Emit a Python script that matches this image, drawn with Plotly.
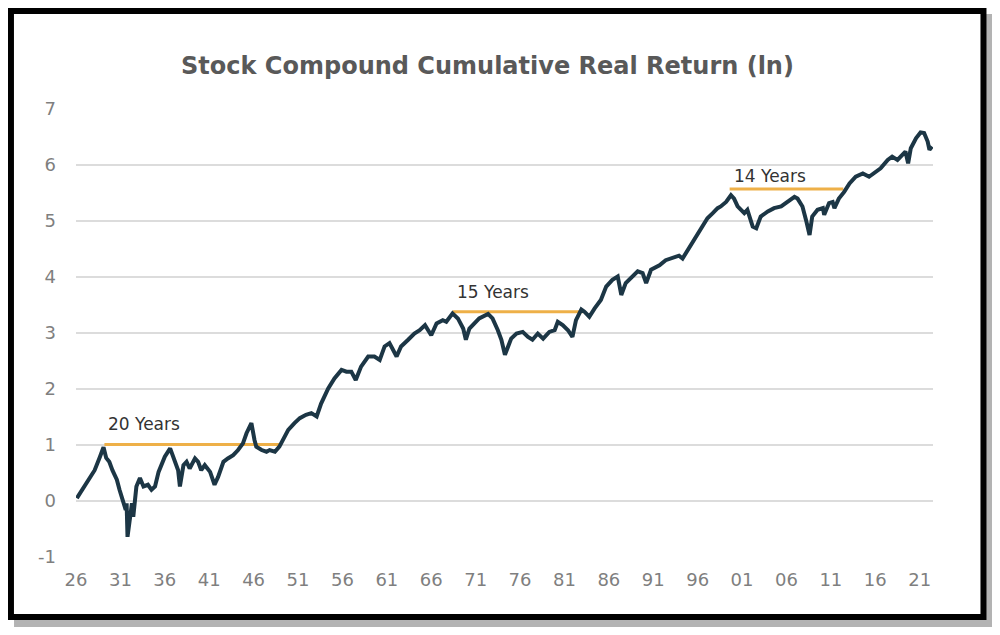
import plotly.graph_objects as go

# stock compound cumulative real return, natural log
YEARS = [
    1926.1, 1928.1, 1928.7, 1929.1, 1929.4, 1929.75, 1930.1, 1930.6, 1930.9, 1931.3,
    1931.6, 1931.7, 1931.8, 1932.3, 1932.45, 1932.8, 1933.2, 1933.6, 1934.1, 1934.5,
    1934.9, 1935.3, 1936.0, 1936.6, 1937.1, 1937.5, 1937.7, 1938.1, 1938.45, 1938.8,
    1939.4, 1939.75, 1940.1, 1940.5, 1941.1, 1941.6, 1942.0, 1942.6, 1943.1, 1943.7,
    1944.25, 1944.8, 1945.2, 1945.75, 1946.1, 1946.3, 1946.9, 1947.45, 1947.8, 1948.4,
    1948.9, 1949.3, 1949.9, 1950.6, 1951.2, 1951.9, 1952.5, 1953.1, 1953.6, 1954.4,
    1955.1, 1955.9, 1956.45, 1957.0, 1957.5, 1958.1, 1958.9, 1959.6, 1960.2, 1960.75,
    1961.3, 1962.1, 1962.6, 1963.4, 1964.1, 1964.7, 1965.3, 1966.0, 1966.6, 1967.3,
    1967.7, 1968.4, 1969.0, 1969.6, 1969.9, 1970.3, 1970.9, 1971.4, 1972.4, 1972.9,
    1973.5, 1973.9, 1974.3, 1974.5, 1975.0, 1975.6, 1976.3, 1976.9, 1977.4, 1978.0,
    1978.6, 1979.3, 1979.9, 1980.25, 1980.8, 1981.4, 1981.9, 1982.3, 1982.9, 1983.25,
    1983.8, 1984.4, 1985.1, 1985.7, 1986.4, 1987.0, 1987.4, 1987.9, 1988.7, 1989.25,
    1989.8, 1990.2, 1990.75, 1991.7, 1992.4, 1993.2, 1993.9, 1994.3, 1995.1, 1995.8,
    1996.6, 1997.1, 1997.7, 1998.25, 1998.6, 1999.2, 1999.75, 2000.1, 2000.5, 2000.9,
    2001.25, 2001.6, 2002.2, 2002.6, 2003.1, 2003.9, 2004.6, 2005.4, 2006.1, 2006.9,
    2007.25, 2007.8, 2008.2, 2008.6, 2008.9, 2009.5, 2010.1, 2010.25, 2010.8, 2011.2,
    2011.4, 2011.9, 2012.5, 2013.1, 2013.8, 2014.6, 2015.3, 2015.9, 2016.6, 2017.4,
    2017.9, 2018.5, 2019.1, 2019.4, 2019.7, 2020.0, 2020.6, 2021.1, 2021.5, 2021.9,
    2022.1, 2022.4,
]
LOG_RETURN = [
    0.05, 0.55, 0.79, 0.96, 0.77, 0.70, 0.55, 0.38, 0.20, -0.04,
    -0.16, -0.04, -0.64, -0.04, -0.28, 0.26, 0.41, 0.26, 0.29, 0.20,
    0.26, 0.52, 0.79, 0.94, 0.73, 0.55, 0.26, 0.64, 0.70, 0.58,
    0.76, 0.70, 0.55, 0.64, 0.52, 0.29, 0.43, 0.70, 0.76, 0.82,
    0.91, 1.03, 1.21, 1.39, 1.09, 0.97, 0.91, 0.88, 0.91, 0.88,
    0.97, 1.09, 1.27, 1.39, 1.48, 1.54, 1.57, 1.51, 1.74, 2.01,
    2.19, 2.34, 2.31, 2.31, 2.16, 2.40, 2.58, 2.58, 2.52, 2.76,
    2.82, 2.58, 2.76, 2.88, 2.99, 3.05, 3.14, 2.96, 3.17, 3.23,
    3.20, 3.35, 3.26, 3.08, 2.88, 3.08, 3.17, 3.26, 3.34, 3.26,
    3.05, 2.88, 2.61, 2.70, 2.90, 2.99, 3.02, 2.93, 2.88, 2.99,
    2.90, 3.02, 3.05, 3.20, 3.14, 3.05, 2.93, 3.23, 3.42, 3.38,
    3.29, 3.44, 3.59, 3.83, 3.95, 4.01, 3.68, 3.89, 4.01, 4.10,
    4.07, 3.89, 4.13, 4.21, 4.30, 4.35, 4.38, 4.33, 4.54, 4.69,
    4.90, 5.05, 5.14, 5.23, 5.26, 5.34, 5.46, 5.40, 5.26, 5.20,
    5.14, 5.20, 4.90, 4.87, 5.08, 5.17, 5.23, 5.26, 5.34, 5.43,
    5.40, 5.26, 5.02, 4.75, 5.08, 5.20, 5.23, 5.11, 5.32, 5.34,
    5.23, 5.40, 5.52, 5.67, 5.79, 5.85, 5.79, 5.85, 5.94, 6.09,
    6.15, 6.09, 6.18, 6.24, 6.03, 6.30, 6.48, 6.58, 6.57, 6.42,
    6.27, 6.33,
]

# periods spent below a previous peak
SEG_LABELS = ["20 Years", "15 Years", "14 Years"]
SEG_START = [1929.2, 1968.4, 1999.6]
SEG_END = [1949.2, 1983.1, 2012.4]
SEG_LEVEL = [1.01, 3.38, 5.57]
LABEL_Y = [1.38, 3.73, 5.81]

TICK_YEARS = list(range(1926, 2022, 5))
TICK_LABELS = ["26", "31", "36", "41", "46", "51", "56", "61", "66", "71",
               "76", "81", "86", "91", "96", "01", "06", "11", "16", "21"]
Y_TICKS = [-1, 0, 1, 2, 3, 4, 5, 6, 7]
Y_LABELS = ["-1", "0", "1", "2", "3", "4", "5", "6", "7"]

NAVY = "#1c3645"
GOLD = "#eeb048"

fig = go.Figure()

for x0, x1, lvl in zip(SEG_START, SEG_END, SEG_LEVEL):
    fig.add_trace(go.Scatter(x=[x0, x1], y=[lvl, lvl], mode="lines",
                             line=dict(color=GOLD, width=3), hoverinfo="skip"))

fig.add_trace(go.Scatter(x=YEARS, y=LOG_RETURN, mode="lines",
                         line=dict(color=NAVY, width=4)))

for txt, x0, ly in zip(SEG_LABELS, SEG_START, LABEL_Y):
    fig.add_annotation(x=x0, y=ly, text=txt, showarrow=False, xanchor="left",
                       xshift=2, font=dict(family="DejaVu Sans", size=17, color="#333333"))

# framed card with a soft drop shadow (paper coords relative to plot area)
fig.add_shape(type="rect", xref="paper", yref="paper",
              x0=-0.0723, x1=1.0689, y0=-0.156, y1=1.212,
              fillcolor="#b3b3b3", line=dict(width=0), layer="below")
fig.add_shape(type="rect", xref="paper", yref="paper",
              x0=-0.0759, x1=1.0589, y0=-0.1339, y1=1.2188,
              fillcolor="white", line=dict(color="black", width=6), layer="below")

# page body adds an 8px offset, margins compensate for it
fig.update_layout(
    width=1000, height=635,
    margin=dict(l=68, r=75, t=101, b=86),
    paper_bgcolor="white", plot_bgcolor="rgba(0,0,0,0)",
    showlegend=False,
    font=dict(family="DejaVu Sans", color="#7f7f7f"),
    title=dict(text="<b>Stock Compound Cumulative Real Return (ln)</b>",
               x=0.4795, xanchor="center", xref="container",
               y=0.909, yanchor="middle", yref="container",
               font=dict(family="DejaVu Sans", size=24, color="#595959")),
)
fig.update_xaxes(range=[1926, 2022.5], showgrid=False, zeroline=False, showline=False,
                 tickvals=TICK_YEARS, ticktext=TICK_LABELS, ticks="",
                 tickfont=dict(size=18, color="#7f7f7f"), ticklabelstandoff=10)
fig.update_yaxes(range=[-1, 7], tickvals=Y_TICKS, ticktext=Y_LABELS,
                 showgrid=True, gridcolor="#dcdcdc", gridwidth=1.5,
                 zeroline=False, showline=False, ticks="",
                 tickfont=dict(size=18, color="#7f7f7f"), ticklabelstandoff=19)

fig.write_html("out.html")
